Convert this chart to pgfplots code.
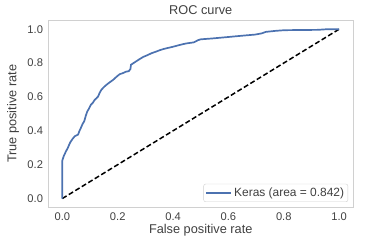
\documentclass[border=0pt]{standalone}
\usepackage{pgfplots}
\pgfplotsset{compat=1.18}
\usepackage{fontspec}
\setmainfont{Liberation Sans}
\definecolor{sbblue}{HTML}{4C72B0}
\definecolor{txt}{HTML}{404040}
\definecolor{frame}{HTML}{D0D0D0}
\begin{document}
\begin{tikzpicture}
\begin{axis}[
  scale only axis,
  width=304.5bp, height=186.3bp,
  xmin=-0.05, xmax=1.05, ymin=-0.05, ymax=1.05,
  xtick={0,0.2,0.4,0.6,0.8,1.0},
  ytick={0,0.2,0.4,0.6,0.8,1.0},
  xticklabel style={/pgf/number format/fixed,/pgf/number format/fixed zerofill,/pgf/number format/precision=1},
  yticklabel style={/pgf/number format/fixed,/pgf/number format/fixed zerofill,/pgf/number format/precision=1},
  /pgf/number format/assume math mode=true,
  tick style={draw=none},
  axis line style={draw=frame, line width=0.9bp},
  tick label style={font=\fontsize{11.2}{13}\selectfont, text=txt},
  xticklabel style={yshift=-2bp},
  yticklabel style={xshift=-2bp},
  label style={font=\fontsize{12.8}{15}\selectfont, text=txt},
  xlabel={False positive rate},
  ylabel={True positive rate},
  xlabel style={yshift=3bp},
  ylabel style={yshift=1.5bp},
  title={ROC curve},
  title style={font=\fontsize{12.8}{15}\selectfont, text=txt, yshift=-3bp},
  legend style={at={(0.984,0.027)}, anchor=south east, draw=frame, rounded corners=2pt,
    font=\fontsize{12}{13}\selectfont, text=txt, inner sep=1.8pt,
    /tikz/every even column/.append style={column sep=2pt}},
  legend cell align=left,
  legend image code/.code={\draw[#1, line width=1.7bp] (0bp,0bp) -- (25bp,0bp);},
]
\addplot[black, line width=1.5bp, dash pattern=on 5bp off 2.6bp, forget plot] coordinates {(0,0) (1,1)};
\addplot[sbblue, line width=1.7bp] coordinates {
(0,0) (0,0.225) (0.005,0.25) (0.012,0.275) (0.02,0.30) (0.028,0.33) (0.036,0.35)
(0.045,0.368) (0.057,0.378) (0.062,0.40) (0.067,0.417) (0.073,0.44) (0.079,0.456)
(0.085,0.49) (0.09,0.514) (0.096,0.53) (0.103,0.554) (0.11,0.565) (0.117,0.583)
(0.122,0.59) (0.129,0.602) (0.135,0.625) (0.141,0.642) (0.15,0.658) (0.159,0.671)
(0.17,0.685) (0.183,0.70) (0.195,0.718) (0.207,0.734) (0.218,0.74) (0.23,0.749)
(0.24,0.752) (0.246,0.765) (0.248,0.79) (0.262,0.805) (0.278,0.822) (0.292,0.836)
(0.308,0.847) (0.322,0.858) (0.338,0.867) (0.352,0.876) (0.368,0.884) (0.397,0.895)
(0.42,0.905) (0.445,0.915) (0.475,0.922) (0.49,0.935) (0.50,0.94) (0.54,0.945)
(0.588,0.952) (0.64,0.96) (0.696,0.968) (0.72,0.975) (0.735,0.984) (0.77,0.99)
(0.803,0.994) (0.86,0.995) (0.922,0.996) (0.95,0.999) (0.97,1.0) (1,1)
};
\addlegendentry{Keras (area = 0.842)}
\end{axis}
\pgfresetboundingbox
\path[use as bounding box] (-48.5bp,-42bp) rectangle (319.5bp,207bp);
\end{tikzpicture}
\end{document}
